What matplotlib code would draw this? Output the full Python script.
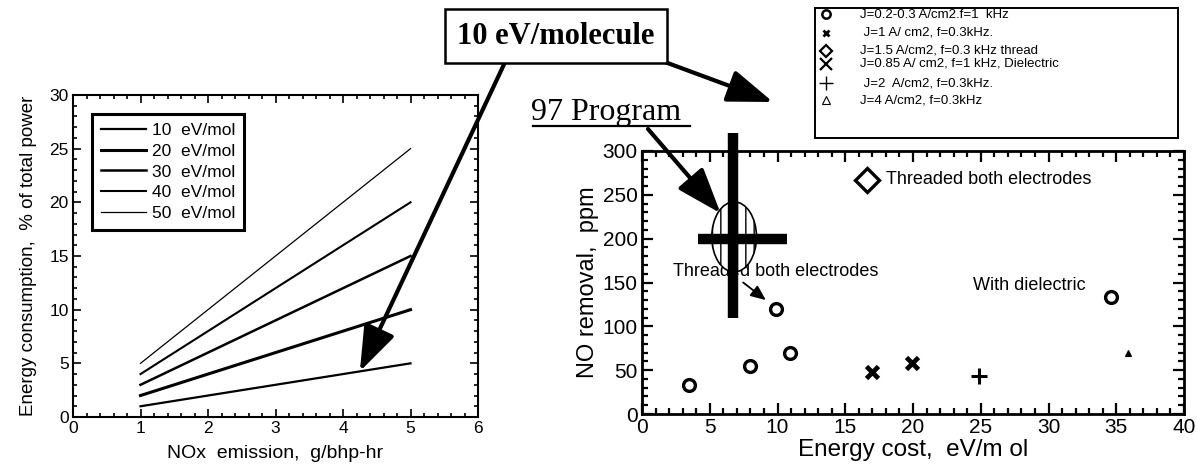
import matplotlib
matplotlib.use("Agg")
import matplotlib.pyplot as plt
from matplotlib.lines import Line2D
from matplotlib.patches import Ellipse, FancyArrowPatch
from matplotlib.ticker import MultipleLocator

plt.rcParams['font.family'] = ['Liberation Sans', 'DejaVu Sans']

# ---------------- data ----------------
# left chart: energy consumption lines
nox = [1, 5]
ev_labels = ["10  eV/mol", "20  eV/mol", "30  eV/mol", "40  eV/mol", "50  eV/mol"]
consumption = [[1, 5], [2, 10], [3, 15], [4, 20], [5, 25]]
line_widths = [1.6, 2.2, 1.8, 1.5, 0.9]

# right chart: NO removal vs energy cost
circ_x = [3.5, 8.0, 9.9, 10.9, 34.6]
circ_y = [33, 55, 120, 70, 133]
xmark_x = [17.0, 19.9]
xmark_y = [48, 58]
plus_x = [24.9]
plus_y = [43]
tri_x = [35.9]
tri_y = [70]
diamond_x = [16.6]
diamond_y = [267]

legend_labels = ["J=0.2-0.3 A/cm2.f=1  kHz",
                 " J=1 A/ cm2, f=0.3kHz.",
                 "J=1.5 A/cm2, f=0.3 kHz thread",
                 "J=0.85 A/ cm2, f=1 kHz, Dielectric",
                 " J=2  A/cm2, f=0.3kHz.",
                 "J=4 A/cm2, f=0.3kHz"]

W, H = 1197, 471
fig = plt.figure(figsize=(W / 100, H / 100), dpi=100)

# ---------------- left axes ----------------
axL = fig.add_axes([73 / W, 1 - 417 / H, (478 - 73) / W, (417 - 95) / H])
for vals, lab, lw in zip(consumption, ev_labels, line_widths):
    axL.plot(nox, vals, color='black', lw=lw, label=lab)
axL.set_xlim(0, 6)
axL.set_ylim(0, 30)
axL.xaxis.set_major_locator(MultipleLocator(1))
axL.xaxis.set_minor_locator(MultipleLocator(0.2))
axL.yaxis.set_major_locator(MultipleLocator(5))
axL.yaxis.set_minor_locator(MultipleLocator(1))
axL.tick_params(which='both', direction='in', top=True, right=True, labelsize=12.5, width=1.2)
axL.tick_params(which='major', length=6, pad=3)
axL.tick_params(which='minor', length=3)
for s in axL.spines.values():
    s.set_linewidth(1.5)
axL.set_xlabel("NOx  emission,  g/bhp-hr", fontsize=14, labelpad=6)
axL.set_ylabel("Energy consumption,  % of total power", fontsize=13.5, labelpad=9)
legL = axL.legend(loc='upper left', bbox_to_anchor=(0.047, 0.94), fontsize=12.5,
                  handlelength=2.6, labelspacing=0.32, fancybox=False,
                  edgecolor='black', framealpha=1, borderpad=0.5, handletextpad=0.35,
                  borderaxespad=0)
legL.get_frame().set_linewidth(2.2)

# ---------------- right axes ----------------
axR = fig.add_axes([642 / W, 1 - 414 / H, (1184 - 642) / W, (414 - 151) / H])
axR.plot(circ_x, circ_y, 'o', mfc='white', mec='black', ms=8.5, mew=2.4, ls='none')
axR.plot(xmark_x, xmark_y, 'x', color='black', ms=9, mew=3.4, ls='none')
axR.plot(plus_x, plus_y, '+', color='black', ms=11, mew=2.2, ls='none')
axR.plot(tri_x, tri_y, '^', color='black', ms=4, mew=0.8, ls='none')
axR.plot(diamond_x, diamond_y, 'D', mfc='white', mec='black', ms=12, mew=2.4, ls='none')
axR.text(18.0, 267, "Threaded both electrodes", fontsize=13, va='center', ha='left')
axR.text(24.4, 147, "With dielectric", fontsize=13, va='center', ha='left')
axR.text(2.3, 162, "Threaded both electrodes", fontsize=13, va='center', ha='left', zorder=2)

# highlighted target region: hatched ellipse with a cross
ell = Ellipse((6.8, 202), 3.3, 80, facecolor='white', edgecolor='black', lw=1.2,
              hatch='||', zorder=3)
axR.add_patch(ell)
axR.plot([6.7, 6.7], [109, 321], color='black', lw=7.5, solid_capstyle='butt',
         clip_on=False, zorder=4)
axR.plot([4.1, 10.7], [200, 200], color='black', lw=7.5, solid_capstyle='butt',
         zorder=4)
axR.annotate("", xy=(9.3, 128), xytext=(7.3, 152),
             arrowprops=dict(arrowstyle='-|>,head_length=0.7,head_width=0.3',
                             lw=1.3, color='black', mutation_scale=13))

axR.set_xlim(0, 40)
axR.set_ylim(0, 300)
axR.xaxis.set_major_locator(MultipleLocator(5))
axR.xaxis.set_minor_locator(MultipleLocator(1))
axR.yaxis.set_major_locator(MultipleLocator(50))
axR.yaxis.set_minor_locator(MultipleLocator(10))
axR.tick_params(which='both', direction='in', top=True, right=True, labelsize=15, width=1.6)
axR.tick_params(which='major', length=8, pad=3)
axR.tick_params(which='minor', length=4.5)
for s in axR.spines.values():
    s.set_linewidth(2)
axR.set_xlabel("Energy cost,  eV/m ol", fontsize=17.5, labelpad=1)
axR.set_ylabel("NO removal,  ppm", fontsize=17, labelpad=3)

# ---------------- legend box (top right) ----------------
axLeg = fig.add_axes([815 / W, 1 - 138 / H, (1178 - 815) / W, (138 - 8) / H])
axLeg.set_xlim(0, 1)
axLeg.set_ylim(1, 0)
axLeg.set_xticks([])
axLeg.set_yticks([])
for s in axLeg.spines.values():
    s.set_linewidth(1.4)
row_pos = [0.05, 0.19, 0.33, 0.43, 0.58, 0.71]
mk_styles = [
    dict(marker='o', mfc='white', mec='black', ms=6, mew=1.8),
    dict(marker='x', color='black', ms=5, mew=2.0),
    dict(marker='D', mfc='white', mec='black', ms=6, mew=1.6),
    dict(marker='x', color='black', ms=9, mew=1.6),
    dict(marker='+', color='black', ms=10, mew=1.0),
    dict(marker='^', mfc='white', mec='black', ms=6, mew=0.8),
]
for yy, st, lab in zip(row_pos, mk_styles, legend_labels):
    axLeg.plot([0.03], [yy], ls='none', clip_on=False, **st)
    axLeg.text(0.125, yy, lab, fontsize=9.5, va='center', ha='left')

# ---------------- figure annotations ----------------
fig.text(556 / W, 1 - 36 / H, "10 eV/molecule", fontsize=22, fontweight='bold',
         family='Liberation Serif', ha='center', va='center',
         bbox=dict(boxstyle='square,pad=0.4', fc='white', ec='black', lw=1.8))
fig.text(531 / W, 1 - 120 / H, "97 Program", fontsize=23, family='Liberation Serif',
         ha='left', va='baseline')
fig.add_artist(Line2D([533 / W, 690 / W], [1 - 126 / H, 1 - 126 / H], color='black', lw=1.6))

arrow_kw = dict(arrowstyle='-|>,head_length=1.0,head_width=0.36', lw=3,
                color='black', mutation_scale=28, shrinkA=0, shrinkB=0)
axL.annotate("", xy=(4.25, 4.25), xycoords='data',
             xytext=(507 / W, 1 - 58 / H), textcoords='figure fraction',
             arrowprops=arrow_kw)
fig.add_artist(FancyArrowPatch(
    (627 / W, 1 - 48 / H), (773 / W, 1 - 102 / H), transform=fig.transFigure,
    **arrow_kw))
axR.annotate("", xy=(5.8, 229), xycoords='data',
             xytext=(648 / W, 1 - 129 / H), textcoords='figure fraction',
             arrowprops=arrow_kw, zorder=5)

fig.savefig("out.png", dpi=100)
